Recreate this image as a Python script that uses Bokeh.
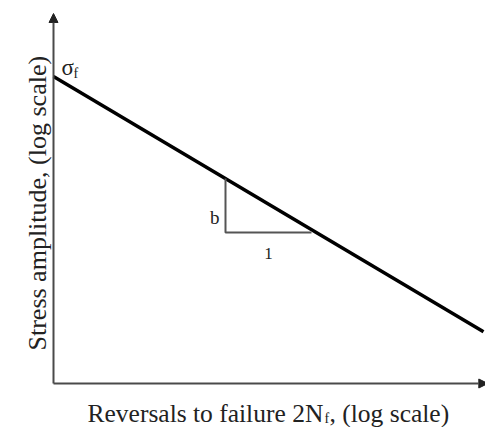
import math
from bokeh.plotting import figure
from bokeh.models import Range1d, Arrow, NormalHead, Label
from bokeh.embed import file_html
from bokeh.resources import INLINE

# ---- schematic data (log-log coordinates, arbitrary units) ----
log_reversals = [0.0, 10.0]          # log(2Nf) at start / end of Basquin line
log_stress = [8.3, 1.4]              # log(stress amplitude) at those points
tri_x = [4.0, 4.0, 6.0]              # slope triangle (vertical then horizontal)
tri_y = [5.54, 4.08, 4.08]
axis_x_max = 10.1
axis_y_max = 10.0
x_label = "Reversals to failure 2N"
x_label_sub = "f"
x_label_tail = ", (log scale)"
y_label = "Stress amplitude, (log scale)"
sigma_label = "σ"
sigma_sub = "f"
rise_label = "b"
run_label = "1"

W, H = 485, 427
FONT = "Liberation Serif"

p = figure(width=W, height=H, output_backend="svg", toolbar_location=None,
           x_range=Range1d(-53 / 43, (W - 53) / 43),
           y_range=Range1d(-(H - 383) / 37, 383 / 37),
           min_border=0, min_border_left=0, min_border_right=0,
           min_border_top=0, min_border_bottom=0)
p.axis.visible = False
p.grid.visible = False
p.outline_line_color = None
p.background_fill_color = "white"
p.border_fill_color = "white"

axis_col = "#4a4a4a"
# axes with arrow heads
p.add_layout(Arrow(x_start=0, y_start=0, x_end=0, y_end=axis_y_max,
                   line_color=axis_col, line_width=2,
                   end=NormalHead(size=9, fill_color="#222222", line_color="#222222")))
p.add_layout(Arrow(x_start=0, y_start=0, x_end=axis_x_max, y_end=0,
                   line_color=axis_col, line_width=2,
                   end=NormalHead(size=9, fill_color="#222222", line_color="#222222")))

# Basquin line
p.line(log_reversals, log_stress, line_color="black", line_width=3.5)
# slope triangle
p.line(tri_x, tri_y, line_color="#555555", line_width=2)

# in-plot labels
p.add_layout(Label(x=log_reversals[0], y=log_stress[0], x_offset=8, y_offset=9,
                   text=sigma_label, text_font=FONT, text_font_size="23px",
                   text_color="#222222", text_baseline="alphabetic"))
p.add_layout(Label(x=log_reversals[0], y=log_stress[0], x_offset=20, y_offset=3,
                   text=sigma_sub, text_font=FONT, text_font_size="14px",
                   text_color="#222222", text_baseline="alphabetic"))
p.add_layout(Label(x=tri_x[0], y=(tri_y[0] + tri_y[1]) / 2, x_offset=-6, y_offset=-12,
                   text=rise_label, text_font=FONT, text_font_size="19px",
                   text_color="#222222", text_align="right", text_baseline="alphabetic"))
p.add_layout(Label(x=(tri_x[1] + tri_x[2]) / 2, y=tri_y[1], x_offset=0, y_offset=-21,
                   text=run_label, text_font=FONT, text_font_size="17px",
                   text_color="#222222", text_align="center", text_baseline="alphabetic"))

# axis titles
p.add_layout(Label(x=87, y=H - 413, x_units="screen", y_units="screen",
                   text=x_label, text_font=FONT, text_font_size="25.5px",
                   text_color="#222222", text_baseline="alphabetic"))
p.add_layout(Label(x=324, y=H - 418, x_units="screen", y_units="screen",
                   text=x_label_sub, text_font=FONT, text_font_size="14px",
                   text_color="#222222", text_baseline="alphabetic"))
p.add_layout(Label(x=329, y=H - 413, x_units="screen", y_units="screen",
                   text=x_label_tail, text_font=FONT, text_font_size="25.5px",
                   text_color="#222222", text_baseline="alphabetic"))
p.add_layout(Label(x=37, y=H - 350, x_units="screen", y_units="screen",
                   angle=math.pi / 2, text=y_label, text_font=FONT,
                   text_font_size="26px", text_color="#222222",
                   text_baseline="alphabetic"))

open("out.html", "w").write(file_html(p, INLINE))
